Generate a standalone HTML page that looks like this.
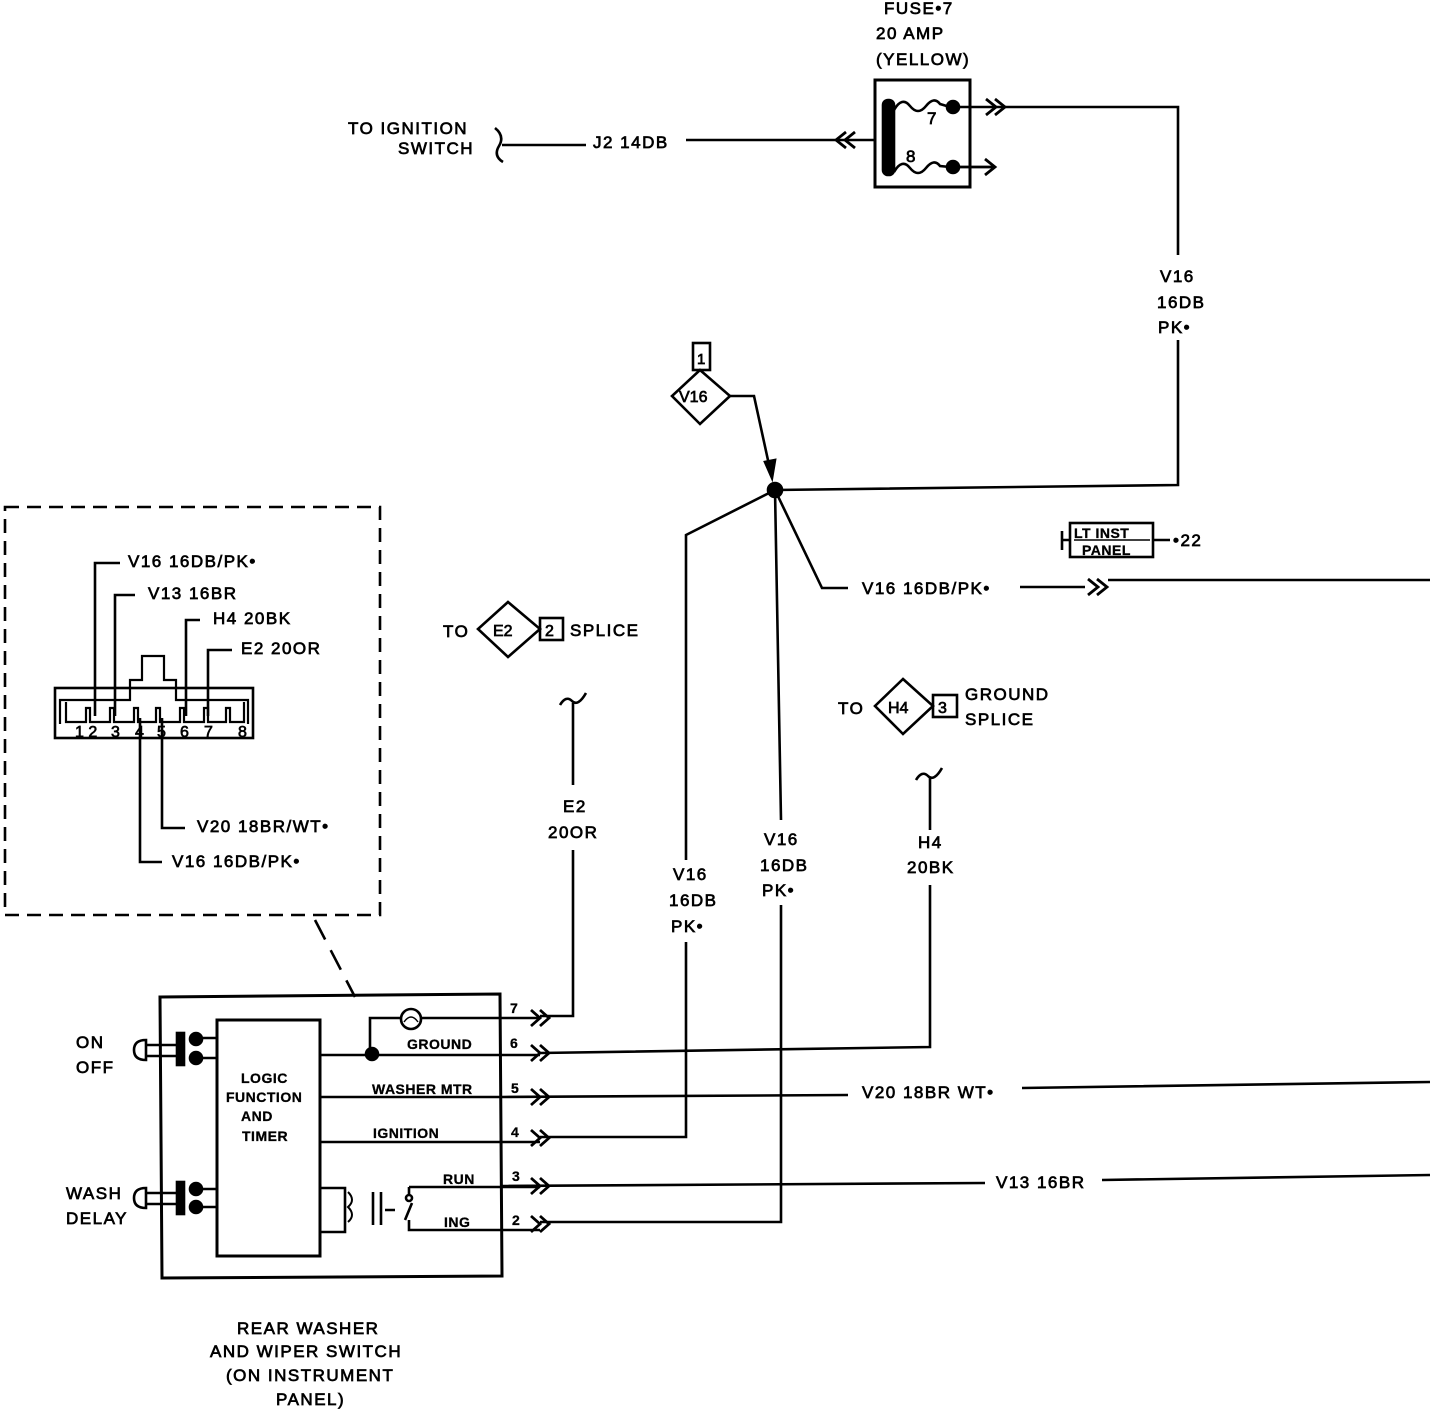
<!DOCTYPE html>
<html><head><meta charset="utf-8"><style>
html,body{margin:0;padding:0;background:#fff}
svg{display:block}
text{font-family:"Liberation Sans",sans-serif;font-size:17px;letter-spacing:1.5px;fill:#000;stroke:#000;stroke-width:0.7}
.s{font-size:14px;font-weight:bold;letter-spacing:0.5px;stroke-width:0.3}
</style></head><body>
<svg width="1440" height="1410" viewBox="0 0 1440 1410" xmlns="http://www.w3.org/2000/svg" fill="none" stroke="#000" stroke-width="2.6">
<!-- Fuse -->
<text x="884" y="14">FUSE•7</text>
<text x="876" y="39">20 AMP</text>
<text x="876" y="65">(YELLOW)</text>
<rect x="875" y="80" width="95" height="107" stroke-width="3"/>
<rect x="883" y="100" width="11" height="75" rx="5" fill="#000"/>
<path d="M894 110 q8 -14 16 -4 q8 10 16 0 q8 -10 14 -2 L950 107"/>
<path d="M894 172 q8 -14 16 -4 q8 10 16 0 q8 -10 14 -2 L950 167"/>
<text x="927" y="124">7</text>
<text x="906" y="162">8</text>
<circle cx="953" cy="107" r="6" fill="#000"/>
<circle cx="953" cy="167" r="6" fill="#000"/>
<path d="M953 107 H1178 V255 M1178 340 V485 L775 490"/>
<path d="M986 99 l10 8 l-10 8 M995 99 l10 8 l-10 8" stroke-width="2.8"/>
<path d="M953 167 H995 M985 159 l10 8 l-10 8" stroke-width="2.8"/>
<text x="1160" y="282">V16</text>
<text x="1157" y="308">16DB</text>
<text x="1158" y="333">PK•</text>
<!-- ignition -->
<path d="M686 140 H875"/>
<path d="M846 132 l-10 8 l10 8 M855 132 l-10 8 l10 8" stroke-width="2.8"/>
<text x="593" y="148">J2 14DB</text>
<path d="M502 145 H586"/>
<path d="M495 128 q10 8 4 18 q-6 10 4 16"/>
<text x="348" y="134">TO IGNITION</text>
<text x="398" y="154">SWITCH</text>
<!-- V16 diamond -->
<rect x="693" y="343" width="17" height="27"/>
<text x="697" y="364" style="font-size:15px">1</text>
<path d="M700 370 L730 396 L700 424 L672 396 Z"/>
<text x="679" y="402" style="font-size:16px;letter-spacing:0">V16</text>
<path d="M730 396 H754 L771 474"/>
<path d="M765 462 L772 478 L775 460 Z" fill="#000"/>
<circle cx="775" cy="490" r="7" fill="#000"/>
<!-- branches -->
<path d="M775 490 L686 535 V860 M686 942 V1137 H540"/>
<path d="M775 490 L781 820 M781 905 V1222 H540"/>
<path d="M775 490 L822 588 H848 M1020 587 H1085 M1108 580 H1430"/>
<path d="M1088 579 l10 8 l-10 8 M1097 579 l10 8 l-10 8" stroke-width="2.8"/>
<text x="862" y="594">V16 16DB/PK•</text>
<text x="673" y="880">V16</text>
<text x="669" y="906">16DB</text>
<text x="671" y="932">PK•</text>
<text x="764" y="845">V16</text>
<text x="760" y="871">16DB</text>
<text x="762" y="896">PK•</text>
<!-- LT INST PANEL -->
<path d="M1062 531 V550 M1062 540 H1070 M1153 540 H1170"/>
<rect x="1070" y="523" width="83" height="34"/>
<path d="M1074 540 H1150" stroke-width="1.5"/>
<text x="1074" y="538" class="s">LT INST</text>
<text x="1082" y="555" class="s">PANEL</text>
<text x="1173" y="546">•22</text>
<!-- E2 -->
<text x="443" y="637">TO</text>
<path d="M508 602 L540 629 L508 657 L478 629 Z"/>
<text x="493" y="636" style="font-size:16px;letter-spacing:0">E2</text>
<rect x="540" y="618" width="23" height="22"/>
<text x="545" y="636" style="font-size:16px">2</text>
<text x="570" y="636">SPLICE</text>
<path d="M560 705 q6 -10 12 -4 q6 6 14 -8"/>
<path d="M573 703 V785 M573 850 V1016 H540"/>
<text x="563" y="812">E2</text>
<text x="548" y="838">20OR</text>
<!-- H4 -->
<text x="838" y="714">TO</text>
<path d="M903 679 L933 706 L903 734 L875 706 Z"/>
<text x="888" y="713" style="font-size:16px;letter-spacing:0">H4</text>
<rect x="933" y="695" width="24" height="22"/>
<text x="938" y="713" style="font-size:16px">3</text>
<text x="965" y="700">GROUND</text>
<text x="965" y="725">SPLICE</text>
<path d="M916 780 q6 -10 12 -4 q6 6 14 -8"/>
<path d="M930 778 V830 M930 885 V1047 L540 1053"/>
<text x="918" y="848">H4</text>
<text x="907" y="873">20BK</text>
<!-- row 5 / 3 -->
<path d="M502 1097 L848 1095 M1022 1088 L1430 1082"/>
<text x="862" y="1098">V20 18BR WT•</text>
<path d="M502 1186 L985 1183 M1102 1180 L1430 1175"/>
<text x="996" y="1188">V13 16BR</text>
<!-- Switch -->
<path d="M160 997 L500 994 L502 1276 L162 1278 Z" stroke-width="3"/>
<rect x="217" y="1020" width="103" height="236" stroke-width="3"/>
<text x="241" y="1083" class="s">LOGIC</text>
<text x="226" y="1102" class="s">FUNCTION</text>
<text x="241" y="1121" class="s">AND</text>
<text x="242" y="1141" class="s">TIMER</text>
<path d="M320 1055 H540 M370 1055 V1018 H540 M320 1097 H502 M320 1142 H540"/>
<circle cx="372" cy="1054" r="6" fill="#000"/>
<circle cx="411" cy="1019" r="10" fill="#fff"/>
<path d="M404 1022 q7 -10 14 0" stroke-width="1.5"/>
<text x="407" y="1049" class="s">GROUND</text>
<text x="372" y="1094" class="s">WASHER MTR</text>
<text x="373" y="1138" class="s">IGNITION</text>
<text x="443" y="1184" class="s">RUN</text>
<text x="444" y="1227" class="s">ING</text>
<path d="M320 1188 H345 V1232 H320"/>
<path d="M348 1192 q8 8 0 15 q8 8 0 15" stroke-width="2"/>
<path d="M373 1192 V1225 M381 1192 V1225 M385 1210 H395"/>
<path d="M409 1187 H540 M409 1187 V1195 M405 1220 L412 1203 M409 1220 V1230 H540"/>
<circle cx="409" cy="1198" r="3"/>
<text x="510" y="1013" class="s">7</text>
<text x="510" y="1048" class="s">6</text>
<text x="511" y="1093" class="s">5</text>
<text x="511" y="1137" class="s">4</text>
<text x="512" y="1181" class="s">3</text>
<text x="512" y="1225" class="s">2</text>
<g stroke-width="2.8">
<path d="M531 1010 l9 8 l-9 8 M540 1010 l9 8 l-9 8"/>
<path d="M531 1045 l9 8 l-9 8 M540 1045 l9 8 l-9 8"/>
<path d="M531 1089 l9 8 l-9 8 M540 1089 l9 8 l-9 8"/>
<path d="M531 1130 l9 8 l-9 8 M540 1130 l9 8 l-9 8"/>
<path d="M531 1178 l9 8 l-9 8 M540 1178 l9 8 l-9 8"/>
<path d="M531 1216 l9 8 l-9 8 M540 1216 l9 8 l-9 8"/>
</g>
<!-- buttons -->
<text x="76" y="1048">ON</text>
<text x="76" y="1073">OFF</text>
<path d="M146 1040 q-12 0 -12 10 q0 10 12 10 Z M146 1045 H178 M146 1056 H178 M197 1038 H217 M197 1058 H217"/>
<rect x="177" y="1033" width="7" height="32" fill="#000"/>
<circle cx="196" cy="1039" r="6" fill="#000"/><circle cx="196" cy="1058" r="6" fill="#000"/>
<text x="66" y="1199">WASH</text>
<text x="66" y="1224">DELAY</text>
<path d="M146 1188 q-12 0 -12 10 q0 10 12 10 Z M146 1193 H178 M146 1204 H178 M197 1189 H217 M197 1207 H217"/>
<rect x="177" y="1182" width="7" height="32" fill="#000"/>
<circle cx="196" cy="1189" r="6" fill="#000"/><circle cx="196" cy="1207" r="6" fill="#000"/>
<text x="237" y="1334">REAR WASHER</text>
<text x="210" y="1357">AND WIPER SWITCH</text>
<text x="226" y="1381">(ON INSTRUMENT</text>
<text x="276" y="1405">PANEL)</text>
<!-- dashed detail -->
<rect x="5" y="507" width="375" height="408" stroke-dasharray="14 8"/>
<path d="M315 920 L355 997" stroke-dasharray="22 12"/>
<rect x="55" y="688" width="198" height="50"/>
<path d="M60 724 V700 H130 V680 H142 V656 H164 V680 H176 V700 H248 V724" stroke-width="2.2"/>
<path d="M66 702 V722 H86 V708 H90 V722 H110 V708 H114 V722 H134 V708 H138 V722 H156 V708 H160 V722 H180 V708 H184 V722 H204 V708 H208 V722 H226 V708 H230 V722 H244 V702" stroke-width="2.2"/>
<text x="75" y="737" style="font-size:16px;letter-spacing:0">1 2</text>
<text x="111" y="737" style="font-size:16px;letter-spacing:0">3</text>
<text x="135" y="737" style="font-size:16px;letter-spacing:0">4</text>
<text x="157" y="737" style="font-size:16px;letter-spacing:0">5</text>
<text x="180" y="737" style="font-size:16px;letter-spacing:0">6</text>
<text x="204" y="737" style="font-size:16px;letter-spacing:0">7</text>
<text x="238" y="737" style="font-size:16px;letter-spacing:0">8</text>
<path d="M95 716 V563 H120 M115 716 V595 H135 M186 716 V620 H200 M208 716 V650 H232 M140 718 V862 H162 M162 718 V828 H185"/>
<text x="128" y="567">V16 16DB/PK•</text>
<text x="148" y="599">V13 16BR</text>
<text x="213" y="624">H4 20BK</text>
<text x="241" y="654">E2 20OR</text>
<text x="197" y="832">V20 18BR/WT•</text>
<text x="172" y="867">V16 16DB/PK•</text>
</svg>
</body></html>
